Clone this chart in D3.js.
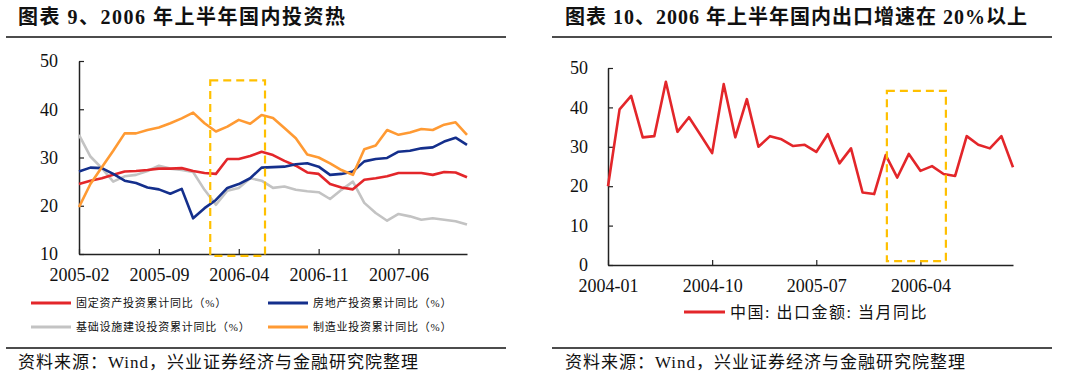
<!DOCTYPE html>
<html><head><meta charset="utf-8">
<script src="https://cdn.jsdelivr.net/npm/d3@7"></script>
<style>
body{margin:0;background:#fff;}
svg{display:block;}
</style></head>
<body>
<svg id="c" width="1080" height="380"></svg>
<script>
// ---------- data: left chart (cumulative YoY, %) ----------
const leftMonths = ["2005-02","2005-03","2005-04","2005-05","2005-06","2005-07","2005-08","2005-09","2005-10","2005-11","2005-12",
  "2006-01","2006-02","2006-03","2006-04","2006-05","2006-06","2006-07","2006-08","2006-09","2006-10","2006-11","2006-12",
  "2007-01","2007-02","2007-03","2007-04","2007-05","2007-06","2007-07","2007-08","2007-09","2007-10","2007-11","2007-12"];
const leftTicks = ["2005-02","2005-09","2006-04","2006-11","2007-06"];
const leftYTicks = [10,20,30,40,50];
const fixedAsset = [24.5,25.2,25.7,26.4,27.1,27.2,27.4,27.7,27.7,27.8,27.2,26.8,26.6,29.7,29.7,30.3,31.2,30.5,29.3,28.3,26.9,26.6,24.5,23.8,23.4,25.4,25.7,26.1,26.8,26.8,26.8,26.4,27.0,26.9,25.9];
const realEstate = [27.1,27.9,27.8,26.6,25.2,24.7,23.8,23.4,22.5,23.5,17.4,19.5,21.2,23.7,24.5,25.7,27.9,28.0,28.1,28.6,28.8,28.1,26.4,26.6,27.1,29.2,29.7,29.9,31.2,31.4,31.9,32.1,33.3,34.1,32.6];
const infra = [34.7,30.2,27.8,25.0,26.1,26.4,27.2,28.3,27.7,27.4,27.0,23.3,20.2,23.1,23.7,25.7,25.2,23.7,24.0,23.3,23.0,22.8,21.4,23.3,25.0,20.6,18.5,16.9,18.3,17.8,17.1,17.4,17.1,16.8,16.1];
const manufacturing = [19.7,24.5,28.0,31.4,35.0,35.0,35.7,36.2,37.1,38.1,39.3,37.1,35.4,36.4,37.8,37.0,38.8,38.2,36.1,34.0,30.6,30.0,28.8,27.4,26.4,31.7,32.5,35.7,34.7,35.2,35.9,35.7,36.8,37.3,34.7];
const leftNames = ["固定资产投资累计同比（%）","房地产投资累计同比（%）","基础设施建设投资累计同比（%）","制造业投资累计同比（%）"];
const leftBox = {from:"2006-01", to:"2006-06", fromOff:0.5, toOff:0.3, top:46, bottom:9.6};

// ---------- data: right chart (monthly export YoY, %) ----------
const rightMonths = ["2004-01","2004-02","2004-03","2004-04","2004-05","2004-06","2004-07","2004-08","2004-09","2004-10","2004-11","2004-12",
  "2005-01","2005-02","2005-03","2005-04","2005-05","2005-06","2005-07","2005-08","2005-09","2005-10","2005-11","2005-12",
  "2006-01","2006-02","2006-03","2006-04","2006-05","2006-06","2006-07","2006-08","2006-09","2006-10","2006-11","2006-12"];
const rightTicks = ["2004-01","2004-10","2005-07","2006-04"];
const rightYTicks = [0,10,20,30,40,50];
const exportsYoY = [20.0,39.5,42.9,32.4,32.7,46.5,33.8,37.5,33.0,28.4,45.9,32.4,42.1,30.0,32.7,31.9,30.2,30.5,28.7,33.2,25.8,29.6,18.4,18.0,27.9,22.2,28.2,23.9,25.1,23.1,22.6,32.7,30.5,29.6,32.7,24.8];
const rightName = "中国: 出口金额: 当月同比";
const rightBox = {from:"2006-01", to:"2006-06", fromOff:0.1, toOff:0.2, top:44.2, bottom:1};

const titles = ["图表 9、2006 年上半年国内投资热","图表 10、2006 年上半年国内出口增速在 20%以上"];
const source = "资料来源：Wind，兴业证券经济与金融研究院整理";

// ---------- style ----------
const COL = {red:"#E3262A", navy:"#142F8C", gray:"#C3C3C3", orange:"#FF9A33", box:"#FFC000", axis:"#222"};
const NUM_FONT = "'Liberation Serif','Times New Roman',serif";
const CJK_FONT = "'Liberation Serif','Noto Sans CJK SC',serif";

const svg = d3.select("#c");

function header(x0, x1, tx, title, ls){
  svg.append("text").attr("x",tx).attr("y",24).attr("font-family",CJK_FONT)
    .attr("font-weight","bold").attr("font-size",20).attr("letter-spacing",ls).attr("fill","#111").text(title);
  svg.append("line").attr("x1",x0).attr("x2",x1).attr("y1",37).attr("y2",37).attr("stroke","#111").attr("stroke-width",1.5);
  svg.append("line").attr("x1",x0).attr("x2",x1).attr("y1",348).attr("y2",348).attr("stroke","#111").attr("stroke-width",1.5);
  svg.append("text").attr("x",tx).attr("y",368).attr("font-family",CJK_FONT)
    .attr("font-size",17).attr("letter-spacing",1).attr("fill","#111").text(source);
}
header(6,506,18,titles[0],1.5);
header(552,1052,565,titles[1],1.0);

function drawAxes(g, x, y, months, xticks, yticks, x0, x1, ypad){
  const ya = d3.axisLeft(y).tickValues(yticks).tickSizeInner(-5).tickSizeOuter(0).tickPadding(ypad);
  const yg = g.append("g").attr("transform",`translate(${x0},0)`).call(ya);
  yg.selectAll("text").attr("font-family",NUM_FONT).attr("font-size",18).attr("fill","#111");
  yg.select(".domain").attr("stroke",COL.axis).attr("stroke-width",1.5);
  yg.selectAll(".tick line").attr("stroke",COL.axis).attr("stroke-width",1.2);

  const xa = d3.axisBottom(x).tickValues(xticks.map(t=>months.indexOf(t)))
    .tickFormat(i=>months[i]).tickSizeInner(-5).tickSizeOuter(0).tickPadding(14);
  const xg = g.append("g").attr("transform",`translate(0,${y.range()[0]})`).call(xa);
  xg.selectAll("text").attr("font-family",NUM_FONT).attr("font-size",18).attr("fill","#111");
  xg.select(".domain").attr("stroke",COL.axis).attr("stroke-width",1.5);
  xg.selectAll(".tick line").attr("stroke",COL.axis).attr("stroke-width",1.2);
}

function drawBox(g, x, y, months, b){
  const xa = x(months.indexOf(b.from)+b.fromOff), xb = x(months.indexOf(b.to)+b.toOff);
  g.append("rect").attr("x",xa).attr("y",y(b.top)).attr("width",xb-xa).attr("height",y(b.bottom)-y(b.top))
    .attr("fill","none").attr("stroke",COL.box).attr("stroke-width",2.2).attr("stroke-dasharray","8,5");
}

// ---------- left chart ----------
{
  const g = svg.append("g");
  const x = d3.scaleLinear().domain([0, leftMonths.length-1]).range([79, 467]);
  const y = d3.scaleLinear().domain([10,50]).range([254, 61]);
  drawAxes(g, x, y, leftMonths, leftTicks, leftYTicks, 79, 467, 21);
  const series = [
    {v:fixedAsset, c:COL.red},
    {v:realEstate, c:COL.navy},
    {v:infra, c:COL.gray},
    {v:manufacturing, c:COL.orange}
  ];
  const line = d3.line().x((d,i)=>x(i)).y(d=>y(d));
  [2,0,1,3].forEach(k=>{
    g.append("path").datum(series[k].v).attr("d",line).attr("fill","none")
      .attr("stroke",series[k].c).attr("stroke-width",2.6).attr("stroke-linejoin","round");
  });
  drawBox(g, x, y, leftMonths, leftBox);

  // legend
  const pos = [[31,303],[268,303],[31,327],[268,327]];
  const cols = [COL.red, COL.navy, COL.gray, COL.orange];
  leftNames.forEach((n,i)=>{
    const [lx,ly] = pos[i];
    g.append("line").attr("x1",lx).attr("x2",lx+40).attr("y1",ly).attr("y2",ly).attr("stroke",cols[i]).attr("stroke-width",3);
    g.append("text").attr("x",lx+45).attr("y",ly+4).attr("font-family",CJK_FONT).attr("font-size",11)
      .attr("letter-spacing",0.75).attr("fill","#111").text(n);
  });
}

// ---------- right chart ----------
{
  const g = svg.append("g");
  const x = d3.scaleLinear().domain([0, rightMonths.length-1]).range([608, 1013]);
  const y = d3.scaleLinear().domain([0,50]).range([265, 68]);
  drawAxes(g, x, y, rightMonths, rightTicks, rightYTicks, 608, 1013, 20);
  const line = d3.line().x((d,i)=>x(i)).y(d=>y(d));
  g.append("path").datum(exportsYoY).attr("d",line).attr("fill","none")
    .attr("stroke",COL.red).attr("stroke-width",2.6).attr("stroke-linejoin","round");
  drawBox(g, x, y, rightMonths, rightBox);
  g.append("line").attr("x1",684).attr("x2",725).attr("y1",312).attr("y2",312).attr("stroke",COL.red).attr("stroke-width",3);
  g.append("text").attr("x",730).attr("y",318).attr("font-family",CJK_FONT).attr("font-size",16)
    .attr("letter-spacing",1.5).attr("fill","#111").text(rightName);
}
</script>
</body></html>
